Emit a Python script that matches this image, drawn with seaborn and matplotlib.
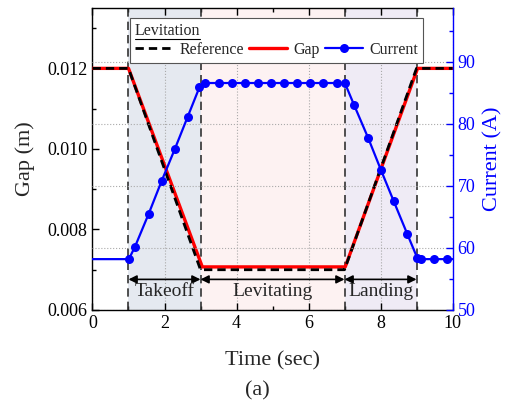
import numpy as np
import pandas as pd
import matplotlib
matplotlib.use('Agg')
import matplotlib.pyplot as plt
import seaborn as sns
from matplotlib.lines import Line2D
from matplotlib.ticker import MultipleLocator, FormatStrFormatter

# values
ref_t = [0, 1, 3, 7, 9, 10]
ref_gap = [0.012, 0.012, 0.0070, 0.0070, 0.012, 0.012]

gap_t = [0, 1.0, 3.05, 7.02, 9.03, 10]
gap_v = [0.012, 0.012, 0.00707, 0.00707, 0.012, 0.012]

cur_t = [0, 1.01, 1.18, 1.56, 1.92, 2.29, 2.64, 2.97, 3.13, 3.51, 3.88, 4.24,
         4.60, 4.96, 5.32, 5.68, 6.04, 6.40, 6.79, 7.01, 7.27, 7.66, 8.01,
         8.37, 8.74, 9.02, 9.12, 9.49, 9.84, 10]
cur_v = [58.2, 58.2, 60.2, 65.5, 70.8, 76.0, 81.1, 85.9, 86.6, 86.6, 86.6, 86.6,
         86.6, 86.6, 86.6, 86.6, 86.6, 86.6, 86.6, 86.6, 83.0, 77.7, 72.6,
         67.5, 62.3, 58.4, 58.2, 58.2, 58.2, 58.2]

phases = ['Takeoff', 'Levitating', 'Landing']
phase_start = [1, 3, 7]
phase_end = [3, 7, 9]
phase_colors = ['#e5e9f0', '#fdf2f2', '#efebf5']

sns.set_theme(style='ticks')
plt.rcParams['font.family'] = ['Liberation Serif', 'DejaVu Serif']
plt.rcParams['mathtext.fontset'] = 'stix'

fig = plt.figure(figsize=(5.06, 4.05), dpi=100)
ax = fig.add_axes([0.1828, 0.2346, 0.7115, 0.7457])
ax2 = ax.twinx()

# phase shading and boundaries
for s, e, c in zip(phase_start, phase_end, phase_colors):
    ax.axvspan(s, e, color=c, zorder=0, lw=0)
for xv in [1, 3, 7, 9]:
    ax.axvline(xv, color='#333333', lw=1.2, dashes=(5, 3), zorder=1)

ax.grid(axis='x', color='#aaaaaa', ls=':', lw=0.8)
ax2.grid(axis='y', color='#aaaaaa', ls=':', lw=0.8)
ax.set_axisbelow(True)

ref_df = pd.DataFrame({'t': ref_t, 'gap': ref_gap})
gap_df = pd.DataFrame({'t': gap_t, 'gap': gap_v})
cur_df = pd.DataFrame({'t': cur_t, 'cur': cur_v})

sns.lineplot(data=gap_df, x='t', y='gap', ax=ax, color='red', lw=2.4,
             estimator=None, sort=False, zorder=3)
sns.lineplot(data=ref_df, x='t', y='gap', ax=ax, color='black', lw=2,
             dashes=False, estimator=None, sort=False, zorder=4)
ax.lines[-1].set_dashes((3, 1.8))
sns.lineplot(data=cur_df, x='t', y='cur', ax=ax2, color='blue', lw=1.6,
             marker='o', markersize=6.5, markeredgewidth=0,
             markevery=list(range(1, len(cur_t) - 1)),
             estimator=None, sort=False, zorder=3)

# phase arrows and labels
for s, e, name in zip(phase_start, phase_end, phases):
    ax.annotate('', xy=(e, 0.00676), xytext=(s, 0.00676),
                arrowprops=dict(arrowstyle='<|-|>', color='black', lw=1.2,
                                mutation_scale=12, shrinkA=0, shrinkB=0))
    ax.text((s + e) / 2, 0.00646, name, ha='center', va='center', fontsize=14)

ax.set_xlim(0, 10)
ax.set_ylim(0.006, 0.0135)
ax2.set_ylim(50, 98.7)

ax.xaxis.set_major_locator(MultipleLocator(2))
ax.xaxis.set_minor_locator(MultipleLocator(1))
ax.yaxis.set_major_locator(MultipleLocator(0.002))
ax.yaxis.set_minor_locator(MultipleLocator(0.001))
ax.yaxis.set_major_formatter(FormatStrFormatter('%.3f'))
ax2.yaxis.set_major_locator(MultipleLocator(10))
ax2.yaxis.set_minor_locator(MultipleLocator(5))

ax.tick_params(which='both', direction='in', top=True, right=False,
               labelsize=13, colors='black')
ax.tick_params(which='major', length=5, width=1)
ax.tick_params(which='minor', length=3, width=1)
ax2.tick_params(which='both', direction='in', colors='blue', labelsize=13)
ax2.tick_params(which='major', length=5, width=1)
ax2.tick_params(which='minor', length=3, width=1)

for sp in ax.spines.values():
    sp.set_linewidth(1)
    sp.set_color('black')
ax.spines['right'].set_visible(False)
ax2.spines['left'].set_visible(False)
ax2.spines['top'].set_visible(False)
ax2.spines['bottom'].set_visible(False)
ax2.spines['right'].set_color('blue')
ax2.spines['right'].set_linewidth(1)

ax.set_xlabel('Time (sec)', fontsize=16, labelpad=14)
ax.set_ylabel('Gap (m)', fontsize=16, labelpad=9)
ax2.set_ylabel('Current (A)', fontsize=16, color='blue', labelpad=6)

handles = [
    Line2D([], [], color='black', lw=2, dashes=(3, 1.8)),
    Line2D([], [], color='red', lw=2.4),
    Line2D([], [], color='blue', lw=1.6, marker='o', markersize=6.5,
           markeredgewidth=0),
]
leg = ax2.legend(handles, ['Reference', 'Gap', 'Current'], title='Levitation',
                 ncol=3, loc='upper left', bbox_to_anchor=(0.104, 0.967),
                 borderaxespad=0, fontsize=11.5, title_fontsize=11.5,
                 alignment='left', handlelength=2.4, handletextpad=0.4,
                 columnspacing=0.3, fancybox=False, framealpha=1,
                 edgecolor='#555555', borderpad=0.3, labelspacing=0.2)
leg.get_frame().set_linewidth(0.8)
leg.set_zorder(10)

# underline the legend title
fig.canvas.draw()
bb = leg.get_title().get_window_extent()
inv = fig.transFigure.inverted()
(x0, y0), (x1, _) = inv.transform([(bb.x0, bb.y0 - 0.5), (bb.x1, bb.y0 - 0.5)])
fig.add_artist(Line2D([x0, x1], [y0, y0], color='black', lw=0.8, zorder=20))

fig.text(0.508, 0.036, '(a)', ha='center', va='center', fontsize=16)

plt.savefig('out.png', dpi=100)
plt.close()
